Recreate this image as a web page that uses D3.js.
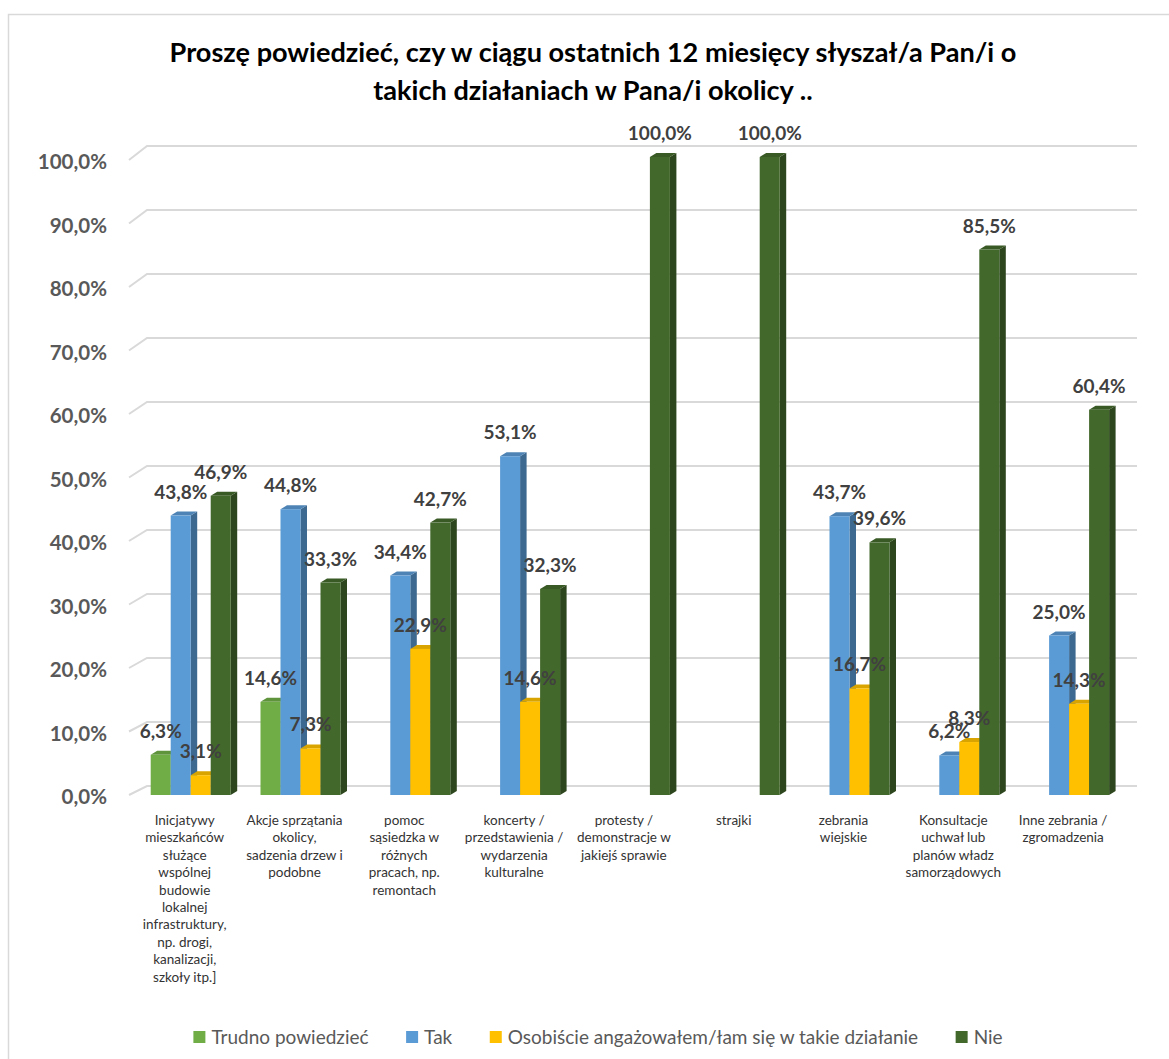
<!DOCTYPE html>
<html>
<head>
<meta charset="utf-8">
<script src="https://cdn.jsdelivr.net/npm/d3@7"></script>
<style>
body { margin: 0; background: #ffffff; }
text { font-family: Lato, "Open Sans", sans-serif; }
</style>
</head>
<body>
<div id="chart"></div>
<script>
//chart data
var categories = [
	"Inicjatywy mieszkańców służące wspólnej budowie lokalnej infrastruktury, np. drogi, kanalizacji, szkoły itp.]",
	"Akcje sprzątania okolicy, sadzenia drzew i podobne",
	"pomoc sąsiedzka w różnych pracach, np. remontach",
	"koncerty / przedstawienia / wydarzenia kulturalne",
	"protesty / demonstracje w jakiejś sprawie",
	"strajki",
	"zebrania wiejskie",
	"Konsultacje uchwał lub planów władz samorządowych",
	"Inne zebrania / zgromadzenia"
];
//category labels as they wrap under the axis
var categoryLines = [
	["Inicjatywy", "mieszkańców", "służące", "wspólnej", "budowie", "lokalnej", "infrastruktury,", "np. drogi,", "kanalizacji,", "szkoły itp.]"],
	["Akcje sprzątania", "okolicy,", "sadzenia drzew i", "podobne"],
	["pomoc", "sąsiedzka w", "różnych", "pracach, np.", "remontach"],
	["koncerty /", "przedstawienia /", "wydarzenia", "kulturalne"],
	["protesty /", "demonstracje w", "jakiejś sprawie"],
	["strajki"],
	["zebrania", "wiejskie"],
	["Konsultacje", "uchwał lub", "planów władz", "samorządowych"],
	["Inne zebrania /", "zgromadzenia"]
];
var seriesNames = ["Trudno powiedzieć", "Tak", "Osobiście angażowałem/łam się w takie działanie", "Nie"];
var seriesColours = ["#70AD47", "#5B9BD5", "#FFC000", "#43682B"];
var trudnoValues = [6.3, 14.6, null, null, null, null, null, null, null];
var takValues = [43.8, 44.8, 34.4, 53.1, null, null, 43.7, 6.2, 25.0];
var osobiscieValues = [3.1, 7.3, 22.9, 14.6, null, null, 16.7, 8.3, 14.3];
var nieValues = [46.9, 33.3, 42.7, 32.3, 100, 100, 39.6, 85.5, 60.4];
var yTicks = [0, 10, 20, 30, 40, 50, 60, 70, 80, 90, 100];
var yTickLabels = ["0,0%", "10,0%", "20,0%", "30,0%", "40,0%", "50,0%", "60,0%", "70,0%", "80,0%", "90,0%", "100,0%"];

var titleLines = ["Proszę powiedzieć, czy w ciągu ostatnich 12 miesięcy słyszał/a Pan/i o", "takich działaniach w Pana/i okolicy .."];

//frame dimensions
var width = 1169,
	height = 1059,
	barWidth = 20,
	depthX = 6.5,
	depthY = 4,
	wallLeft = 129,
	wallBack = 147,
	wallRight = 1137;

var x = d3.scaleBand()
	.domain(categories)
	.range([135.8, 1124]);

var yBar = d3.scaleLinear().domain([0, 100]).range([795, 157]);   //front face of the bars
var yBack = d3.scaleLinear().domain([0, 100]).range([786, 146]);  //back wall
var yFront = d3.scaleLinear().domain([0, 100]).range([795, 160]); //front edge of side wall
var yLabel = d3.scaleLinear().domain([0, 100]).range([797, 162]);

function pct(v) {
	return d3.format(".1f")(v).replace(".", ",") + "%";
}

function makeChart() {
	var svg = d3.select("#chart")
		.append("svg")
		.attr("width", width)
		.attr("height", height);

	//outer frame
	svg.append("rect")
		.attr("x", 8.5)
		.attr("y", 14.5)
		.attr("width", 1300)
		.attr("height", 1200)
		.attr("fill", "#ffffff")
		.attr("stroke", "#d9d9d9")
		.attr("stroke-width", 1.5);

	//title
	var title = svg.append("g");
	title.selectAll("text")
		.data(titleLines)
		.enter()
		.append("text")
		.attr("x", 593)
		.attr("y", function(d, i) { return 62 + i * 38; })
		.attr("text-anchor", "middle")
		.style("font-weight", "bold")
		.style("font-size", "24px")
		.style("fill", "#000000")
		.text(function(d) { return d; });
	//fit the first line to the width in the picture
	var w = title.select("text").node().getComputedTextLength();
	title.selectAll("text").style("font-size", (24 * 847 / w) + "px");

	//gridlines with the little diagonal of the side wall
	svg.append("g")
		.selectAll("path")
		.data(yTicks)
		.enter()
		.append("path")
		.attr("d", function(d) {
			return "M" + wallLeft + "," + yFront(d) + "L" + wallBack + "," + yBack(d) + "L" + wallRight + "," + yBack(d);
		})
		.attr("fill", "none")
		.attr("stroke", "#d9d9d9")
		.attr("stroke-width", 2);

	//y axis labels
	var yAxis = svg.append("g")
		.attr("transform", "translate(107,0)")
		.call(d3.axisLeft(yLabel)
			.tickValues(yTicks)
			.tickFormat(function(d, i) { return yTickLabels[i]; })
			.tickSize(0)
			.tickPadding(0));
	yAxis.select(".domain").remove();
	yAxis.selectAll("text")
		.style("font-family", "Lato, 'Open Sans', sans-serif")
		.style("font-weight", "bold")
		.style("font-size", "20.5px")
		.style("fill", "#595959");

	//flatten the series into bars
	var seriesValues = [trudnoValues, takValues, osobiscieValues, nieValues];
	var bars = [];
	for (var s = 0; s < seriesValues.length; s++) {
		for (var i = 0; i < categories.length; i++) {
			if (seriesValues[s][i] != null) {
				bars.push({cat: categories[i], s: s, v: seriesValues[s][i]});
			}
		}
	}

	function barX(d) {
		return x(d.cat) + x.bandwidth() / 2 - 2 * barWidth + d.s * barWidth;
	}

	var bar = svg.append("g")
		.selectAll("g")
		.data(bars)
		.enter()
		.append("g");

	//side face
	bar.append("path")
		.attr("d", function(d) {
			var x0 = barX(d) + barWidth, t = yBar(d.v), b = yBar(0);
			return "M" + x0 + "," + t + "L" + (x0 + depthX) + "," + (t - depthY) + "L" + (x0 + depthX) + "," + (b - depthY) + "L" + x0 + "," + b + "Z";
		})
		.attr("fill", function(d) { return d3.color(seriesColours[d.s]).darker(1.1); });

	//top face
	bar.append("path")
		.attr("d", function(d) {
			var x0 = barX(d), t = yBar(d.v);
			return "M" + x0 + "," + t + "L" + (x0 + depthX) + "," + (t - depthY) + "L" + (x0 + barWidth + depthX) + "," + (t - depthY) + "L" + (x0 + barWidth) + "," + t + "Z";
		})
		.attr("fill", function(d) { return d3.color(seriesColours[d.s]).darker(0.45); });

	//front face
	bar.append("rect")
		.attr("x", barX)
		.attr("y", function(d) { return yBar(d.v); })
		.attr("width", barWidth)
		.attr("height", function(d) { return yBar(0) - yBar(d.v); })
		.attr("fill", function(d) { return seriesColours[d.s]; });

	//value labels on top of everything
	svg.append("g")
		.selectAll("text")
		.data(bars)
		.enter()
		.append("text")
		.attr("x", function(d) { return barX(d) + barWidth / 2; })
		.attr("y", function(d) { return yBar(d.v) - 17; })
		.attr("text-anchor", "middle")
		.style("font-weight", "bold")
		.style("font-size", "19px")
		.style("fill", "#404040")
		.text(function(d) { return pct(d.v); });

	//category labels
	var catLabels = svg.append("g")
		.selectAll("text")
		.data(categories)
		.enter()
		.append("text")
		.attr("text-anchor", "middle")
		.style("font-size", "13.5px")
		.style("fill", "#333333");
	catLabels.selectAll("tspan")
		.data(function(d, i) { return categoryLines[i].map(function(l) { return {cat: d, line: l}; }); })
		.enter()
		.append("tspan")
		.attr("x", function(d) { return x(d.cat) + x.bandwidth() / 2 - 6; })
		.attr("y", function(d, j) { return 825 + j * 17.4; })
		.text(function(d) { return d.line; });

	//legend
	var legend = svg.append("g");
	var pos = 0;
	seriesNames.forEach(function(name, i) {
		var item = legend.append("g").attr("transform", "translate(" + pos + ",0)");
		item.append("rect")
			.attr("x", 0)
			.attr("y", 1031)
			.attr("width", 12)
			.attr("height", 12)
			.attr("fill", seriesColours[i]);
		var t = item.append("text")
			.attr("x", 18)
			.attr("y", 1044)
			.style("font-size", "19px")
			.style("fill", "#595959")
			.text(name);
		pos += 18 + t.node().getComputedTextLength() + 37.5;
	});
	var legendWidth = pos - 37.5;
	legend.attr("transform", "translate(" + (598 - legendWidth / 2) + ",0)");
}

document.addEventListener('DOMContentLoaded', makeChart);
</script>
</body>
</html>
